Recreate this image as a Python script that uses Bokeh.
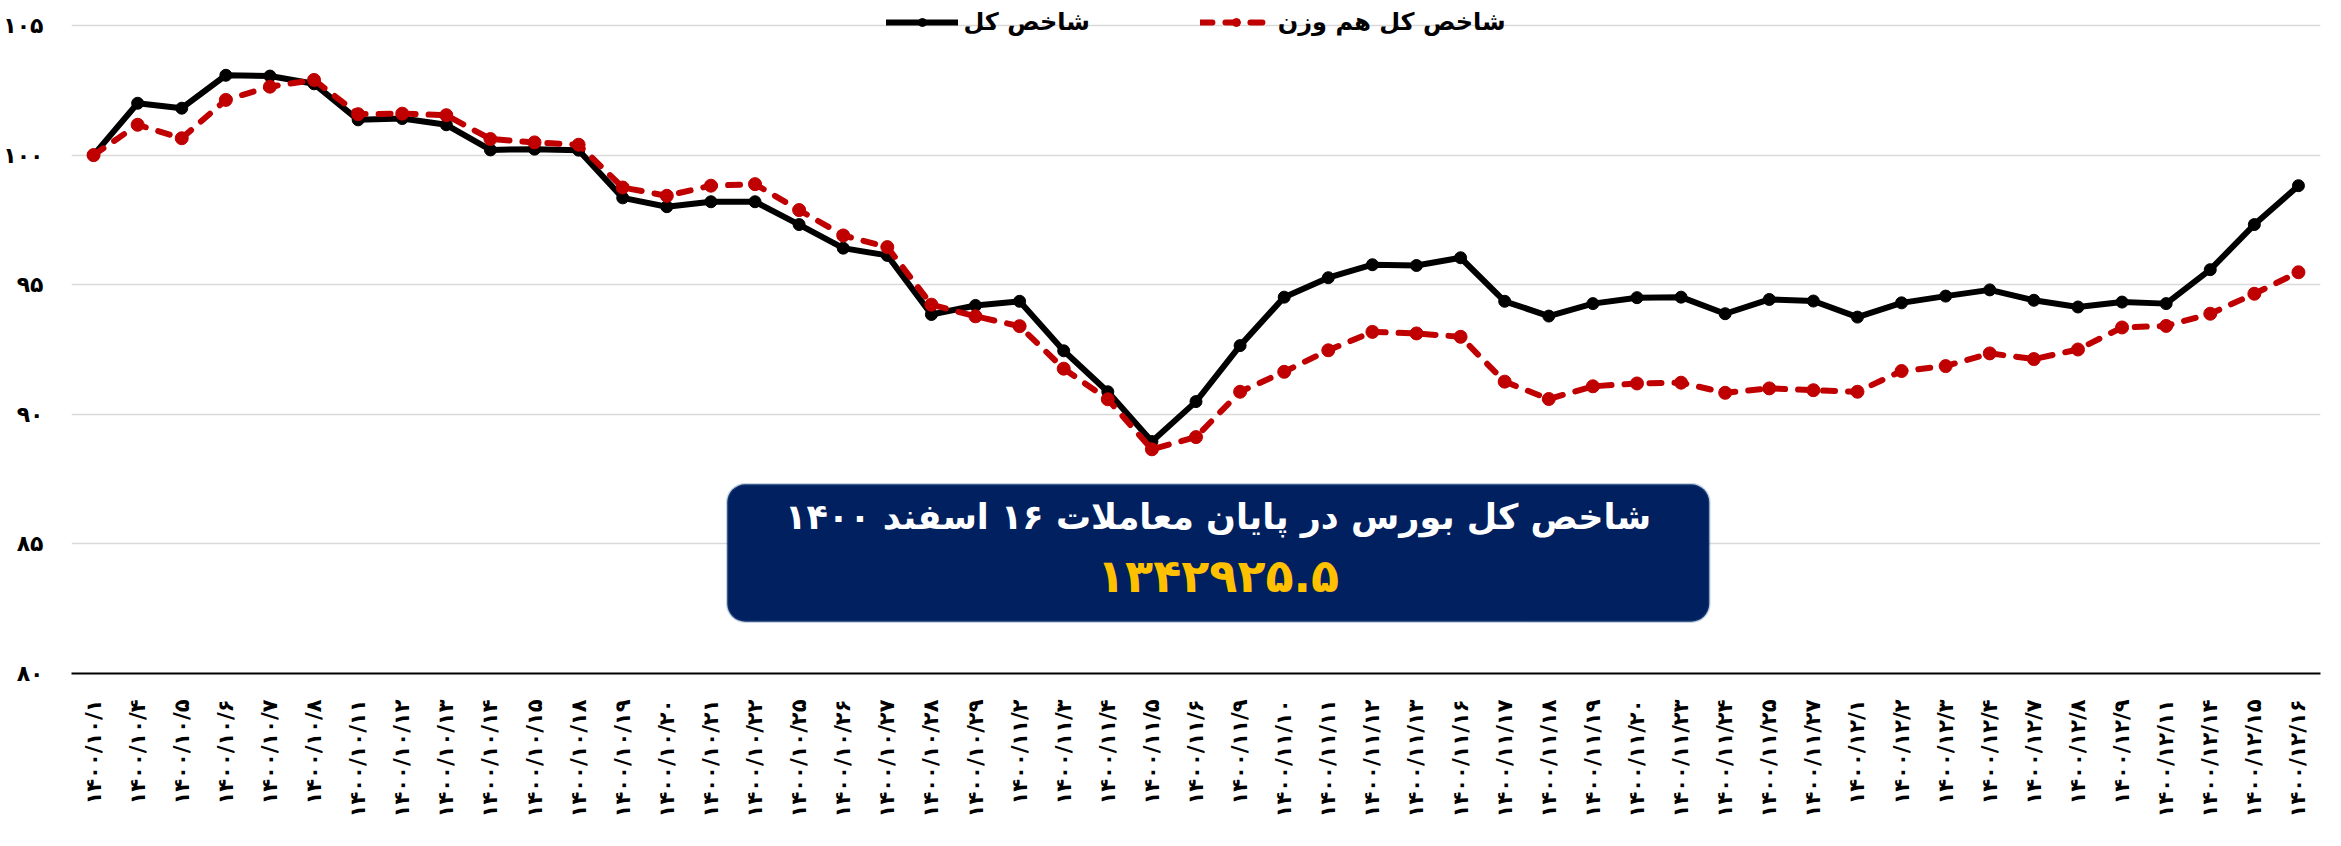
import math
from bokeh.plotting import figure
from bokeh.models import (ColumnDataSource, FactorRange, Range1d, FixedTicker,
                          Legend, LegendItem, BoxAnnotation, Label)
from bokeh.embed import file_html
from bokeh.resources import INLINE

# ---------------- data ----------------
dates = [
    "۱۴۰۰/۱۰/۱", "۱۴۰۰/۱۰/۴", "۱۴۰۰/۱۰/۵", "۱۴۰۰/۱۰/۶", "۱۴۰۰/۱۰/۷", "۱۴۰۰/۱۰/۸",
    "۱۴۰۰/۱۰/۱۱", "۱۴۰۰/۱۰/۱۲", "۱۴۰۰/۱۰/۱۳", "۱۴۰۰/۱۰/۱۴", "۱۴۰۰/۱۰/۱۵", "۱۴۰۰/۱۰/۱۸",
    "۱۴۰۰/۱۰/۱۹", "۱۴۰۰/۱۰/۲۰", "۱۴۰۰/۱۰/۲۱", "۱۴۰۰/۱۰/۲۲", "۱۴۰۰/۱۰/۲۵", "۱۴۰۰/۱۰/۲۶",
    "۱۴۰۰/۱۰/۲۷", "۱۴۰۰/۱۰/۲۸", "۱۴۰۰/۱۰/۲۹", "۱۴۰۰/۱۱/۲", "۱۴۰۰/۱۱/۳", "۱۴۰۰/۱۱/۴",
    "۱۴۰۰/۱۱/۵", "۱۴۰۰/۱۱/۶", "۱۴۰۰/۱۱/۹", "۱۴۰۰/۱۱/۱۰", "۱۴۰۰/۱۱/۱۱", "۱۴۰۰/۱۱/۱۲",
    "۱۴۰۰/۱۱/۱۳", "۱۴۰۰/۱۱/۱۶", "۱۴۰۰/۱۱/۱۷", "۱۴۰۰/۱۱/۱۸", "۱۴۰۰/۱۱/۱۹", "۱۴۰۰/۱۱/۲۰",
    "۱۴۰۰/۱۱/۲۳", "۱۴۰۰/۱۱/۲۴", "۱۴۰۰/۱۱/۲۵", "۱۴۰۰/۱۱/۲۷", "۱۴۰۰/۱۲/۱", "۱۴۰۰/۱۲/۲",
    "۱۴۰۰/۱۲/۳", "۱۴۰۰/۱۲/۴", "۱۴۰۰/۱۲/۷", "۱۴۰۰/۱۲/۸", "۱۴۰۰/۱۲/۹", "۱۴۰۰/۱۲/۱۱",
    "۱۴۰۰/۱۲/۱۴", "۱۴۰۰/۱۲/۱۵", "۱۴۰۰/۱۲/۱۶",
]

shakhes_kol = [
    100.0, 102.0, 101.81, 103.08, 103.05, 102.75, 101.36, 101.41, 101.17, 100.2,
    100.23, 100.19, 98.35, 98.01, 98.2, 98.2, 97.32, 96.41, 96.13, 93.85,
    94.2, 94.36, 92.45, 90.87, 88.95, 90.49, 92.65, 94.52, 95.27, 95.77,
    95.74, 96.04, 94.36, 93.79, 94.27, 94.5, 94.52, 93.88, 94.43, 94.37,
    93.75, 94.3, 94.56, 94.8, 94.4, 94.14, 94.33, 94.27, 95.58, 97.32,
    98.82,
]

shakhes_ham_vazn = [
    100.0, 101.17, 100.65, 102.13, 102.64, 102.9, 101.58, 101.6, 101.54, 100.62,
    100.49, 100.4, 98.75, 98.43, 98.82, 98.88, 97.88, 96.9, 96.45, 94.23,
    93.78, 93.4, 91.76, 90.58, 88.65, 89.12, 90.87, 91.64, 92.47, 93.18,
    93.12, 92.99, 91.26, 90.59, 91.08, 91.19, 91.22, 90.83, 91.0, 90.93,
    90.87, 91.67, 91.86, 92.35, 92.13, 92.5, 93.35, 93.41, 93.88, 94.65,
    95.48,
]

series_names = ["شاخص کل", "شاخص کل هم وزن"]
y_ticks = [80, 85, 90, 95, 100, 105]
y_tick_labels = ["۸۰", "۸۵", "۹۰", "۹۵", "۱۰۰", "۱۰۵"]
box_title = "شاخص کل بورس در پایان معاملات ۱۶ اسفند ۱۴۰۰"
box_value = "۱۳۴۲۹۲۵.۵"

FONT = "DejaVu Sans"

# ---------------- figure ----------------
source = ColumnDataSource(dict(date=dates, kol=shakhes_kol, ham=shakhes_ham_vazn))

p = figure(
    x_range=FactorRange(factors=dates, range_padding=0),
    y_range=Range1d(80, 105.656),
    width=2325, height=830,
    output_backend="svg", toolbar_location=None,
    min_border_left=64, min_border_right=5, min_border_top=8, min_border_bottom=157,
)
p.outline_line_color = None
p.background_fill_color = "white"

p.xgrid.grid_line_color = None
p.ygrid.ticker = FixedTicker(ticks=y_ticks)
p.ygrid.grid_line_color = "#D9D9D9"
p.ygrid.grid_line_width = 1.6

# y axis
p.yaxis.ticker = FixedTicker(ticks=y_ticks)
p.yaxis.major_label_overrides = {t: l for t, l in zip(y_ticks, y_tick_labels)}
p.yaxis.axis_line_color = None
p.yaxis.major_tick_line_color = None
p.yaxis.minor_tick_line_color = None
p.yaxis.major_label_text_font = FONT
p.yaxis.major_label_text_font_style = "bold"
p.yaxis.major_label_text_font_size = "22px"
p.yaxis.major_label_text_color = "black"
p.yaxis.major_label_standoff = 22

# x axis
p.xaxis.axis_line_color = "black"
p.xaxis.axis_line_width = 2
p.xaxis.major_tick_line_color = None
p.xaxis.minor_tick_line_color = None
p.xaxis.major_label_orientation = math.pi / 2
p.xaxis.major_label_text_font = FONT
p.xaxis.major_label_text_font_style = "bold"
p.xaxis.major_label_text_font_size = "21px"
p.xaxis.major_label_text_color = "black"
p.xaxis.major_label_standoff = 20

# series
l1 = p.line("date", "kol", source=source, line_color="black", line_width=6,
            line_join="round", line_cap="round")
s1 = p.scatter("date", "kol", source=source, size=12, marker="circle",
               fill_color="black", line_color="black")
l2 = p.line("date", "ham", source=source, line_color="#C00000", line_width=6,
            line_dash="12 13", line_cap="round", line_join="round")
s2 = p.scatter("date", "ham", source=source, size=13, marker="circle",
               fill_color="#C00000", line_color="#C00000")

legend = Legend(
    items=[LegendItem(label=series_names[0], renderers=[l1, s1]),
           LegendItem(label=series_names[1], renderers=[l2, s2])],
    location="top_center", orientation="horizontal",
    background_fill_alpha=0, border_line_color=None,
    margin=0, padding=0, spacing=110, label_standoff=6,
    glyph_width=72, glyph_height=20, label_height=20,
    label_text_font=FONT, label_text_font_style="bold",
    label_text_font_size="24px", label_text_color="black",
)
p.add_layout(legend)

# annotation box
box = BoxAnnotation(left=14.87, right=37.14, top=87.3, bottom=82.0,
                    fill_color="#002060", fill_alpha=1.0,
                    line_color="#41719C", line_width=2.5, border_radius=18)
p.add_layout(box)

p.add_layout(Label(x=26.0, y=86.05, text=box_title, text_color="white",
                   text_font=FONT, text_font_style="bold", text_font_size="35px",
                   text_align="center", text_baseline="middle"))
p.add_layout(Label(x=26.0, y=83.75, text=box_value, text_color="#FFC000",
                   text_font=FONT, text_font_style="bold", text_font_size="46px",
                   text_align="center", text_baseline="middle"))

open("out.html", "w").write(file_html(p, INLINE))
